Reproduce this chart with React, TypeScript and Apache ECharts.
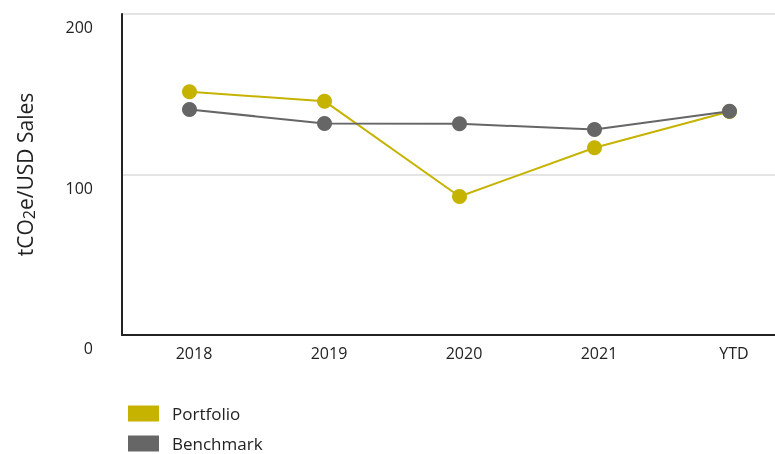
import React, { useEffect, useRef } from "react";
import * as echarts from "echarts";

const categories = ["2018", "2019", "2020", "2021", "YTD"];
const portfolio = [151.5, 145.7, 86.3, 116.7, 139.2];
const benchmark = [140.5, 131.8, 131.6, 128.1, 139.4];
const yTicks = [0, 100, 200];

const FONT = "'Open Sans', 'Noto Sans', sans-serif";
const GOLD = "#c6b300";
const GREY = "#666666";

export default function App() {
  const ref = useRef<HTMLDivElement>(null);
  useEffect(() => {
    if (!ref.current) return;
    const chart = echarts.init(ref.current, null, { renderer: "svg" });
    chart.setOption({
      animation: false,
      textStyle: { fontFamily: FONT },
      grid: { left: 122, top: 14, width: 675, height: 321, containLabel: false, outerBoundsMode: "none" },
      legend: {
        orient: "vertical",
        left: 128,
        top: 405,
        padding: 0,
        itemWidth: 31,
        itemHeight: 16,
        itemGap: 13,
        icon: "rect",
        textStyle: { fontFamily: FONT, fontSize: 17, lineHeight: 16, color: "#222", padding: [0, 0, 0, 8] },
        data: [
          { name: "Portfolio", itemStyle: { color: GOLD } },
          { name: "Benchmark", itemStyle: { color: GREY } },
        ],
      },
      xAxis: {
        type: "category",
        data: categories,
        boundaryGap: true,
        axisLine: { show: true, lineStyle: { color: "#222", width: 2 } },
        axisTick: { show: false },
        axisLabel: { fontFamily: FONT, fontSize: 16, color: "#222", margin: 10, padding: [0, 0, 0, 9] },
      },
      yAxis: {
        type: "value",
        min: yTicks[0],
        max: yTicks[yTicks.length - 1],
        interval: 100,
        name: "tCO{sub|2}e/USD Sales",
        nameLocation: "middle",
        nameGap: 85,
        nameRotate: 90,
        nameTextStyle: {
          fontFamily: FONT,
          fontSize: 21,
          color: "#222",
          lineHeight: 24,
          rich: {
            sub: { fontFamily: FONT, fontSize: 16, color: "#222", verticalAlign: "bottom", lineHeight: 24, padding: [6, 0, 0, 0] },
          },
        },
        axisLine: { show: true, lineStyle: { color: "#222", width: 2 } },
        axisTick: { show: false },
        splitLine: { show: true, lineStyle: { color: "#e4e4e4", width: 2 } },
        axisLabel: {
          fontFamily: FONT,
          fontSize: 16,
          color: "#222",
          margin: 29,
          verticalAlign: "top",
          lineHeight: 16,
          padding: [5, 0, 0, 0],
        },
      },
      series: [
        {
          name: "Portfolio",
          type: "line",
          data: portfolio,
          symbol: "circle",
          symbolSize: 15,
          itemStyle: { color: GOLD },
          lineStyle: { color: GOLD, width: 2 },
          z: 2,
        },
        {
          name: "Benchmark",
          type: "line",
          data: benchmark,
          symbol: "circle",
          symbolSize: 15,
          itemStyle: { color: GREY },
          lineStyle: { color: GREY, width: 2 },
          z: 3,
        },
      ],
    });
    return () => chart.dispose();
  }, []);
  return (
    <div style={{ position: "fixed", left: 0, top: 0 }}>
      <div ref={ref} style={{ width: 775, height: 454 }} />
    </div>
  );
}
